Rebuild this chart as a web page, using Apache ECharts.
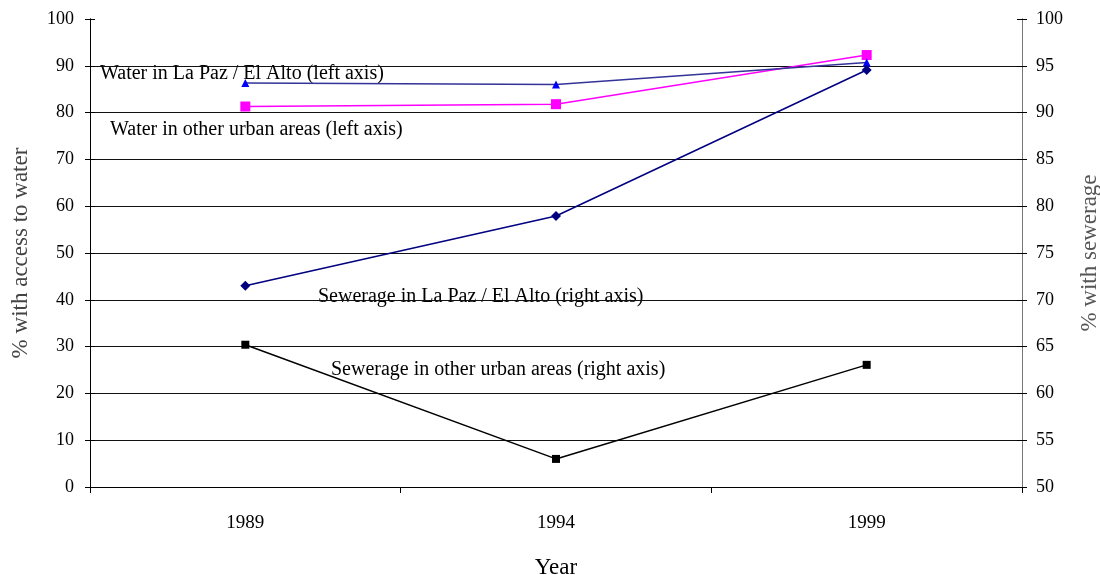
<!DOCTYPE html>
<html>
<head>
<meta charset="utf-8">
<script src="https://cdn.jsdelivr.net/npm/echarts@6/dist/echarts.min.js"></script>
<style>
  html, body { margin: 0; padding: 0; background: #fff; }
  #chart { width: 1100px; height: 575px; }
</style>
</head>
<body>
<div id="chart"></div>
<script>
// Access to water and sewerage in Bolivian urban areas
const years = ['1989', '1994', '1999'];
const waterLaPaz = [86.3, 86.0, 90.7];        // left axis, %
const waterOtherUrban = [81.3, 81.8, 92.3];   // left axis, %
const sewerLaPaz = [71.5, 78.95, 94.55];      // right axis, %
const sewerOtherUrban = [65.2, 53.0, 63.05];  // right axis, %
const leftTicks = { min: 0, max: 100, interval: 10 };
const rightTicks = { min: 50, max: 100, interval: 5 };

const serif = '"Liberation Serif", "DejaVu Serif", serif';
const chart = echarts.init(document.getElementById('chart'));

function yAxisBase(t, pos, lineColor) {
  return {
    type: 'value', position: pos, min: t.min, max: t.max, interval: t.interval,
    axisLine: { show: true, lineStyle: { color: lineColor, width: 1 } },
    axisTick: { show: true, length: 5, lineStyle: { color: '#000' } },
  };
}

chart.setOption({
  animation: false,
  backgroundColor: '#fff',
  grid: { left: 90, right: 78, top: 19, bottom: 88, outerBoundsMode: 'none', containLabel: false },
  xAxis: {
    type: 'category', data: years, boundaryGap: true,
    name: 'Year', nameLocation: 'middle', nameGap: 69,
    nameTextStyle: { fontFamily: serif, fontSize: 23, color: '#000' },
    axisLine: { lineStyle: { color: '#000', width: 1 } },
    axisTick: { show: true, interval: 0, alignWithLabel: false, length: 6, lineStyle: { color: '#000' } },
    axisLabel: { fontFamily: serif, fontSize: 19, color: '#000', margin: 27 },
  },
  yAxis: [
    Object.assign(yAxisBase(leftTicks, 'left', '#000'), {
      name: '% with access to water', nameLocation: 'middle', nameGap: 58, nameRotate: 90,
      nameTextStyle: { fontFamily: serif, fontSize: 23, color: '#444' },
      axisLabel: { fontFamily: serif, fontSize: 18, color: '#000', margin: 16 },
      splitLine: { show: true, showMaxLine: false, lineStyle: { color: '#111', width: 1 } },
    }),
    Object.assign(yAxisBase(rightTicks, 'right', '#777'), {
      name: '% with sewerage', nameLocation: 'middle', nameGap: 56, nameRotate: 90,
      nameTextStyle: { fontFamily: serif, fontSize: 23, color: '#555' },
      axisLabel: { fontFamily: serif, fontSize: 18, color: '#000', margin: 14 },
      splitLine: { show: false },
    }),
    // inner halves of the crossing tick marks
    Object.assign(yAxisBase(leftTicks, 'left', '#000'), {
      axisTick: { show: true, inside: true, length: 5, lineStyle: { color: '#000' } },
      axisLabel: { show: false }, splitLine: { show: false },
    }),
    Object.assign(yAxisBase(rightTicks, 'right', '#777'), {
      axisTick: { show: true, inside: true, length: 5, lineStyle: { color: '#000' } },
      axisLabel: { show: false }, splitLine: { show: false },
    }),
  ],
  series: [
    {
      name: 'Water in La Paz / El Alto', type: 'line', yAxisIndex: 0, data: waterLaPaz,
      symbol: 'triangle', symbolSize: 8,
      lineStyle: { color: '#333399', width: 1.5 }, itemStyle: { color: '#0000ff' }, z: 3,
    },
    {
      name: 'Water in other urban areas', type: 'line', yAxisIndex: 0, data: waterOtherUrban,
      symbol: 'rect', symbolSize: 10,
      lineStyle: { color: '#ff00ff', width: 1.5 }, itemStyle: { color: '#ff00ff' }, z: 2,
    },
    {
      name: 'Sewerage in La Paz / El Alto', type: 'line', yAxisIndex: 1, data: sewerLaPaz,
      symbol: 'diamond', symbolSize: 10,
      lineStyle: { color: '#000080', width: 1.5 }, itemStyle: { color: '#000080' }, z: 4,
    },
    {
      name: 'Sewerage in other urban areas', type: 'line', yAxisIndex: 1, data: sewerOtherUrban,
      symbol: 'rect', symbolSize: 8,
      lineStyle: { color: '#000', width: 1.5 }, itemStyle: { color: '#000' }, z: 3,
    },
  ],
  graphic: [
    { type: 'text', left: 100, top: 64, style: { text: 'Water in La Paz / El Alto (left axis)', font: '20px ' + serif, fill: '#000' } },
    { type: 'text', left: 110, top: 120, style: { text: 'Water in other urban areas (left axis)', font: '20px ' + serif, fill: '#000' } },
    { type: 'text', left: 318, top: 287, style: { text: 'Sewerage in La Paz / El Alto (right axis)', font: '20px ' + serif, fill: '#000' } },
    { type: 'text', left: 331, top: 360, style: { text: 'Sewerage in other urban areas (right axis)', font: '20px ' + serif, fill: '#000' } },
  ],
});
</script>
</body>
</html>
